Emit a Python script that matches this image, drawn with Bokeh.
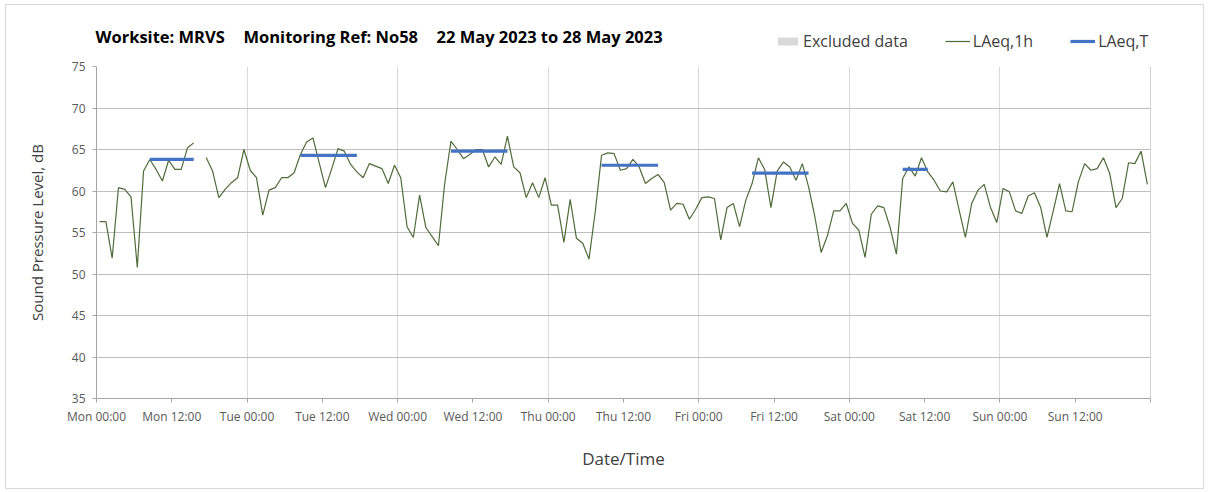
import numpy as np
from bokeh.plotting import figure
from bokeh.layouts import column
from bokeh.models import (FixedTicker, Label, Legend, LegendItem, Span, Range1d,
                          ColumnDataSource)
from bokeh.embed import file_html
from bokeh.resources import INLINE

# ---------------- data ----------------
day_names = ["Mon", "Tue", "Wed", "Thu", "Fri", "Sat", "Sun"]
hour_index = list(range(168))  # hours from Mon 00:00

laeq_1h = [
    56.3, 56.3, 51.9, 60.4, 60.2, 59.3, 50.8, 62.4, 63.8, 62.6, 61.2, 63.7,
    62.6, 62.6, 65.2, 65.8, np.nan, 64.0, 62.4, 59.2, 60.2, 61.0, 61.6, 65.0,
    62.5, 61.6, 57.1, 60.1, 60.4, 61.6, 61.6, 62.2, 64.4, 65.9, 66.4, 63.4,
    60.4, 62.7, 65.1, 64.8, 63.2, 62.3, 61.6, 63.3, 63.0, 62.7, 60.9, 63.1,
    61.6, 55.7, 54.4, 59.5, 55.6, 54.5, 53.4, 60.9, 66.0, 65.0, 63.9, 64.4,
    65.0, 65.0, 62.9, 64.1, 63.2, 66.6, 62.9, 62.2, 59.2, 61.0, 59.2, 61.6,
    58.3, 58.3, 53.8, 59.0, 54.3, 53.7, 51.8, 57.5, 64.3, 64.6, 64.5, 62.5,
    62.7, 63.8, 62.9, 60.9, 61.5, 62.0, 61.0, 57.7, 58.5, 58.4, 56.6, 57.8,
    59.2, 59.3, 59.1, 54.1, 58.0, 58.5, 55.7, 58.9, 60.9, 64.0, 62.6, 58.0,
    62.4, 63.5, 62.9, 61.3, 63.3, 60.5, 56.9, 52.6, 54.6, 57.6, 57.6, 58.5,
    56.1, 55.3, 52.0, 57.2, 58.2, 58.0, 55.6, 52.4, 61.5, 62.9, 61.8, 64.0,
    62.3, 61.3, 60.0, 59.9, 61.1, 57.7, 54.4, 58.5, 60.1, 60.8, 58.0, 56.2,
    60.3, 59.9, 57.6, 57.3, 59.4, 59.8, 58.0, 54.4, 57.6, 60.9, 57.6, 57.5,
    61.1, 63.3, 62.5, 62.7, 64.0, 62.1, 58.0, 59.1, 63.4, 63.3, 64.8, 60.8,
]

laeqt_start_hour = [8, 32, 56, 80, 104, 128]
laeqt_end_hour = [15, 41, 65, 89, 113, 132]
laeqt_value = [63.8, 64.3, 64.8, 63.1, 62.15, 62.6]

y_ticks = [35, 40, 45, 50, 55, 60, 65, 70, 75]

title_parts = ["Worksite: MRVS", "Monitoring Ref: No58",
               "22 May 2023 to 28 May 2023"]
legend_labels = ["Excluded data", "LAeq,1h", "LAeq,T"]

# ---------------- styling ----------------
FONT = "Open Sans"
GREEN = "#4f6b3a"
BLUE = "#4472c4"
GREY_BOX = "#d9d9d9"
TXT = "#595959"
W = 1197
TOP_H = 51
MAIN_H = 432

# ---------------- header figure (title + legend) ----------------
top = figure(width=W, height=TOP_H, output_backend="svg", toolbar_location=None,
             x_range=Range1d(0, 1), y_range=Range1d(0, 1),
             x_axis_type=None, y_axis_type=None,
             min_border_left=0, min_border_right=0, min_border_top=0,
             min_border_bottom=0)
top.outline_line_color = None
top.grid.visible = False
try:
    top.frame_align = False
except Exception:
    pass

title_x = [89, 237, 430]
for txt, tx in zip(title_parts, title_x):
    top.add_layout(Label(x=tx, y=20, x_units="screen", y_units="screen",
                         text=txt, text_font=FONT, text_font_size="16.5px",
                         text_font_style="bold", text_color="#000000",
                         text_baseline="middle"))

# legend-only renderers (single empty row, nothing visible is drawn)
esrc = ColumnDataSource(dict(left=[np.nan], right=[np.nan],
                             top=[np.nan], bottom=[np.nan]))
lg_ex = top.quad(left="left", right="right", top="top", bottom="bottom",
                 source=esrc, fill_color=GREY_BOX, line_color=None)
lsrc = ColumnDataSource(dict(x=[np.nan], y=[np.nan]))
lg_1h = top.line("x", "y", source=lsrc, line_color=GREEN, line_width=1.2)
lg_t = top.line("x", "y", source=lsrc, line_color=BLUE, line_width=3.2)

legend = Legend(items=[LegendItem(label=legend_labels[0], renderers=[lg_ex]),
                       LegendItem(label=legend_labels[1], renderers=[lg_1h]),
                       LegendItem(label=legend_labels[2], renderers=[lg_t])],
                orientation="horizontal", location=(769, 4),
                glyph_width=25, glyph_height=10, label_height=20,
                label_standoff=3, spacing=37, padding=0, margin=0,
                border_line_color=None, background_fill_alpha=0,
                label_text_font=FONT, label_text_font_size="16px",
                label_text_color="#404040")
top.add_layout(legend, "center")

# ---------------- main figure ----------------
p = figure(width=W, height=MAIN_H, output_backend="svg", toolbar_location=None,
           x_range=Range1d(0, 168), y_range=Range1d(35, 75),
           min_border_left=90, min_border_right=53, min_border_top=10,
           min_border_bottom=90)
p.outline_line_color = None

x_mid = np.array(hour_index) + 0.5   # centre of each hourly period
src = ColumnDataSource(dict(x=x_mid, y=np.array(laeq_1h, dtype=float)))
p.line("x", "y", source=src, line_color=GREEN, line_width=1.2)

tsrc = ColumnDataSource(dict(x0=np.array(laeqt_start_hour) + 0.5,
                             x1=np.array(laeqt_end_hour) + 0.5,
                             y=laeqt_value))
p.segment(x0="x0", x1="x1", y0="y", y1="y", source=tsrc,
          line_color=BLUE, line_width=3.2)

p.add_layout(Span(location=168, dimension="height", line_color="#a6a6a6",
                  line_width=1))

x_ticks = list(range(0, 169, 12))
overrides = {}
for t in x_ticks:
    overrides[t] = f"{day_names[t // 24]} {t % 24:02d}:00" if t < 168 else ""

xa = p.xaxis[0]
xa.ticker = FixedTicker(ticks=x_ticks)
xa.major_label_overrides = overrides
xa.axis_line_color = "#a6a6a6"
xa.major_tick_line_color = "#a6a6a6"
xa.major_tick_out = 4
xa.major_tick_in = 0
xa.minor_tick_line_color = None
xa.major_label_text_font = FONT
xa.major_label_text_font_size = "12px"
xa.major_label_text_color = TXT
xa.major_label_standoff = 5
xa.axis_label = "Date/Time"
xa.axis_label_text_font = FONT
xa.axis_label_text_font_size = "17px"
xa.axis_label_text_font_style = "normal"
xa.axis_label_text_color = "#404040"
xa.axis_label_standoff = 19

ya = p.yaxis[0]
ya.ticker = FixedTicker(ticks=y_ticks)
ya.axis_line_color = "#a6a6a6"
ya.major_tick_line_color = "#a6a6a6"
ya.major_tick_out = 4
ya.major_tick_in = 0
ya.minor_tick_line_color = None
ya.major_label_text_font = FONT
ya.major_label_text_font_size = "12px"
ya.major_label_text_color = TXT
ya.major_label_standoff = 7
ya.axis_label = "Sound Pressure Level, dB"
ya.axis_label_text_font = FONT
ya.axis_label_text_font_size = "15px"
ya.axis_label_text_font_style = "normal"
ya.axis_label_text_color = "#404040"
ya.axis_label_standoff = 22

p.xgrid.ticker = FixedTicker(ticks=list(range(24, 168, 24)))
p.xgrid.grid_line_color = "#d9d9d9"
p.ygrid.ticker = FixedTicker(ticks=y_ticks)
p.ygrid.grid_line_color = "#bfbfbf"

layout = column(top, p, spacing=0)
layout.styles = {"border": "1px solid #d9d9d9", "margin": "4px 0 0 5px"}

open("out.html", "w").write(file_html(layout, INLINE))
